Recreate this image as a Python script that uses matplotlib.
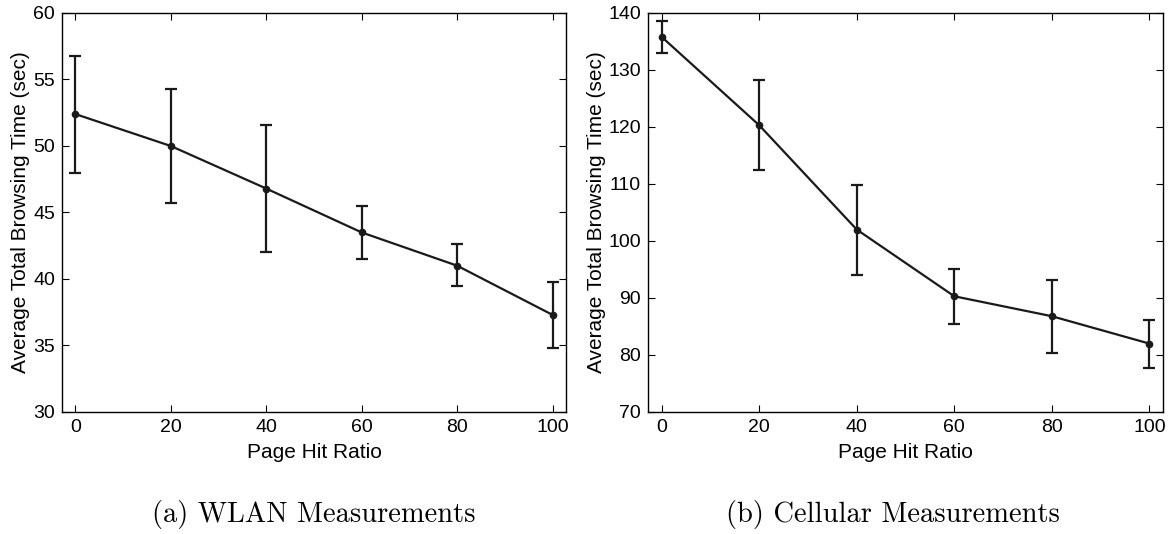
import matplotlib
matplotlib.use('Agg')
import matplotlib.pyplot as plt

plt.rcParams['font.family'] = ['Liberation Sans', 'DejaVu Sans']

# Page hit ratio (%)
hit_ratio = [0, 20, 40, 60, 80, 100]

# WLAN: mean and error bar ends
wlan_mean = [52.4, 50.0, 46.8, 43.5, 41.0, 37.3]
wlan_low = [48.0, 45.7, 42.0, 41.5, 39.5, 34.8]
wlan_high = [56.8, 54.3, 51.6, 45.5, 42.6, 39.8]

# Cellular: mean and error bar ends
cell_mean = [135.8, 120.3, 102.0, 90.3, 86.8, 82.0]
cell_low = [133.0, 112.5, 94.0, 85.5, 80.4, 77.7]
cell_high = [138.6, 128.2, 109.9, 95.1, 93.2, 86.2]

fig = plt.figure(figsize=(11.71, 5.34), dpi=100)
ax1 = fig.add_axes([0.0529, 0.2285, 0.4304, 0.7472])
ax2 = fig.add_axes([0.5534, 0.2285, 0.4398, 0.7472])

def draw(ax, mean, low, high, ylim, yticks, caption, cap_x):
    err = [[m - l for m, l in zip(mean, low)], [h - m for m, h in zip(mean, high)]]
    ax.errorbar(hit_ratio, mean, yerr=err, color='#1a1a1a', lw=1.6, marker='o', ms=4.5,
                capsize=4.5, capthick=1.6, elinewidth=1.6)
    ax.set_xlim(-2.8, 102.8)
    ax.set_ylim(*ylim)
    ax.set_yticks(yticks)
    ax.set_xticks(hit_ratio)
    ax.tick_params(direction='in', top=True, right=True, labelsize=14, length=5, pad=5)
    for s in ax.spines.values():
        s.set_linewidth(1.0)
    ax.set_xlabel('Page Hit Ratio', fontsize=15, labelpad=5)
    ax.set_ylabel('Average Total Browsing Time (sec)', fontsize=15, labelpad=2)
    ax.text(cap_x, -0.258, caption, transform=ax.transAxes, ha='center', va='center',
            fontsize=20.5, family='cmr10')

draw(ax1, wlan_mean, wlan_low, wlan_high, (30, 60), range(30, 61, 5),
     '(a) WLAN Measurements', 0.5)
draw(ax2, cell_mean, cell_low, cell_high, (70, 140), range(70, 141, 10),
     '(b) Cellular Measurements', 0.475)

fig.savefig('out.png', dpi=100)
